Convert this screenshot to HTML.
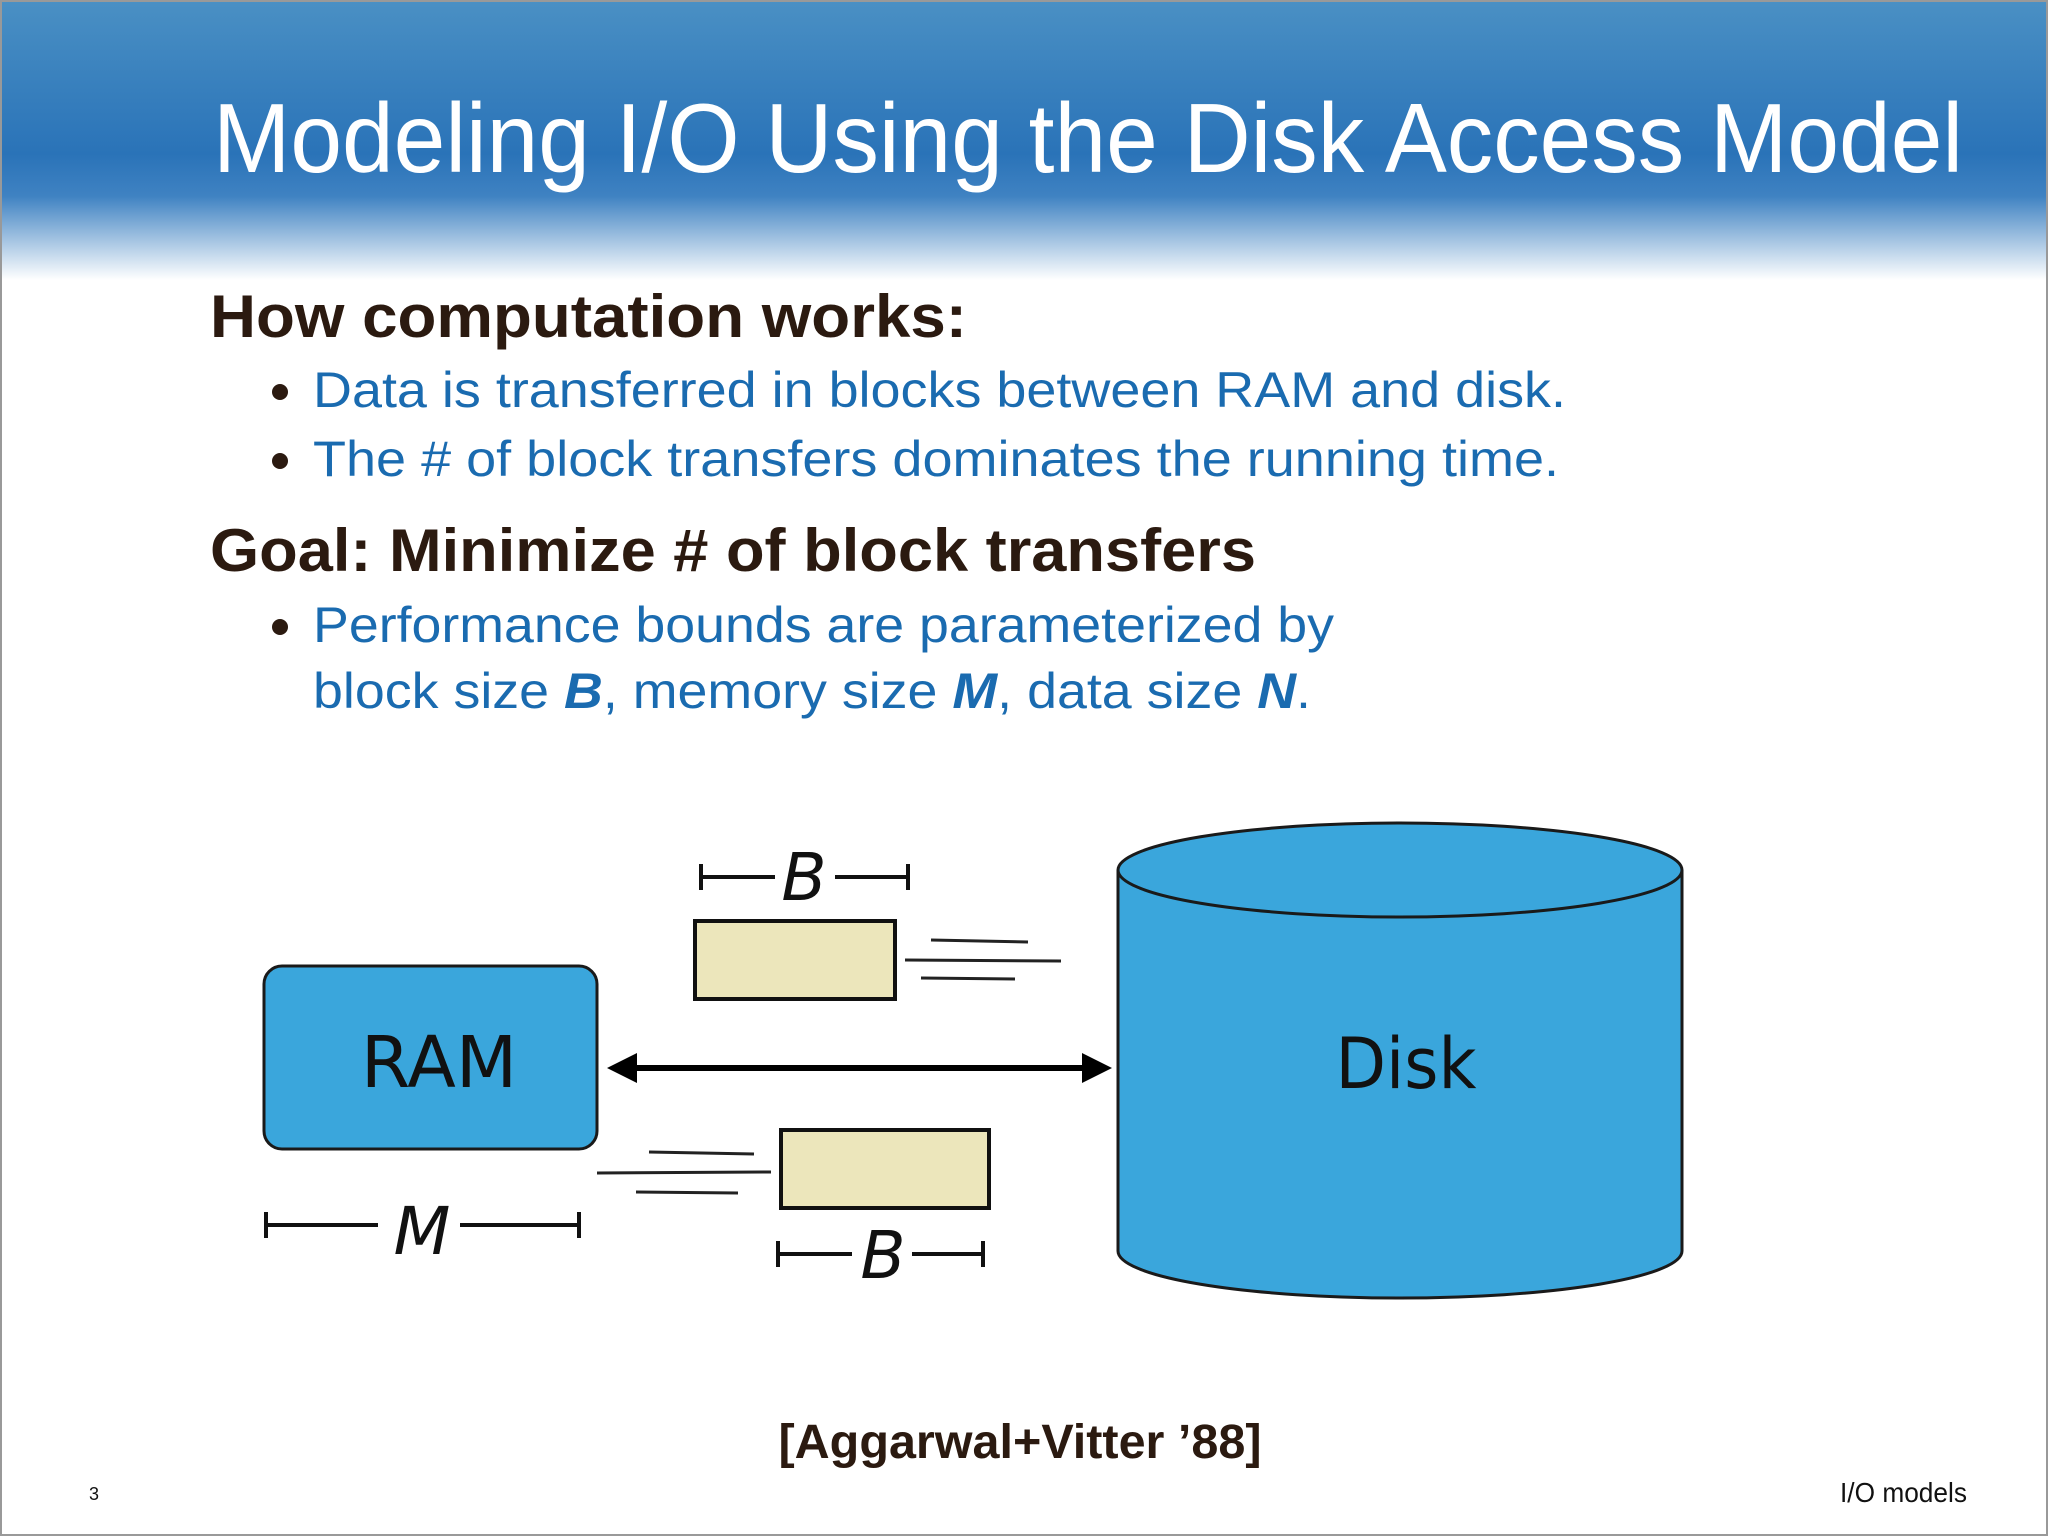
<!DOCTYPE html>
<html><head><meta charset="utf-8"><style>
html,body{margin:0;padding:0;background:#fff}
svg{display:block}
</style></head><body>
<svg width="2048" height="1536" viewBox="0 0 2048 1536" xmlns="http://www.w3.org/2000/svg">
<defs>
<linearGradient id="hdr" x1="0" y1="0" x2="0" y2="1">
<stop offset="0" stop-color="#4a90c4"/>
<stop offset="0.55" stop-color="#2a73b8"/>
<stop offset="0.7" stop-color="#3f82c2"/>
<stop offset="1" stop-color="#ffffff"/>
</linearGradient>
</defs>
<rect x="0" y="0" width="2048" height="1536" fill="#fff"/>
<rect x="0" y="0" width="2048" height="280" fill="url(#hdr)"/>
<rect x="1" y="1" width="2046" height="1534" fill="none" stroke="#999" stroke-width="2"/>
<text x="213" y="172" font-family="Liberation Sans, sans-serif" font-size="98" fill="#fff" textLength="1750" lengthAdjust="spacingAndGlyphs">Modeling I/O Using the Disk Access Model</text>

<g font-family="Liberation Sans, sans-serif">
<text x="210" y="337" font-size="60" font-weight="bold" fill="#2b1a10" textLength="757" lengthAdjust="spacingAndGlyphs">How computation works:</text>
<circle cx="280" cy="392" r="8" fill="#2b1a10"/>
<text x="313" y="407" font-size="50" fill="#1a6bb0" textLength="1253" lengthAdjust="spacingAndGlyphs">Data is transferred in blocks between RAM and disk.</text>
<circle cx="280" cy="461" r="8" fill="#2b1a10"/>
<text x="313" y="476" font-size="50" fill="#1a6bb0" textLength="1246" lengthAdjust="spacingAndGlyphs">The # of block transfers dominates the running time.</text>
<text x="210" y="571" font-size="60" font-weight="bold" fill="#2b1a10" textLength="1046" lengthAdjust="spacingAndGlyphs">Goal: Minimize # of block transfers</text>
<circle cx="280" cy="627" r="8" fill="#2b1a10"/>
<text x="313" y="642" font-size="50" fill="#1a6bb0" textLength="1021" lengthAdjust="spacingAndGlyphs">Performance bounds are parameterized by</text>
<text x="313" y="708" font-size="50" fill="#1a6bb0" textLength="998" lengthAdjust="spacingAndGlyphs">block size <tspan font-weight="bold" font-style="italic">B</tspan>, memory size <tspan font-weight="bold" font-style="italic">M</tspan>, data size <tspan font-weight="bold" font-style="italic">N</tspan>.</text>
</g>

<!-- RAM -->
<rect x="264" y="966" width="333" height="183" rx="18" fill="#3aa6dc" stroke="#1a1a1a" stroke-width="3"/>
<text x="439" y="1087" text-anchor="middle" font-family="DejaVu Sans, sans-serif" font-size="71" fill="#111">RAM</text>

<!-- Disk -->
<path d="M1118 870 L1118 1251 A282 47 0 0 0 1682 1251 L1682 870" fill="#3aa6dc" stroke="#1a1a1a" stroke-width="3"/>
<ellipse cx="1400" cy="870" rx="282" ry="47" fill="#3aa6dc" stroke="#1a1a1a" stroke-width="3"/>
<text x="1406" y="1088" text-anchor="middle" font-family="DejaVu Sans, sans-serif" font-size="70" fill="#111" textLength="141" lengthAdjust="spacingAndGlyphs">Disk</text>

<!-- arrow -->
<line x1="625" y1="1068" x2="1092" y2="1068" stroke="#000" stroke-width="6"/>
<polygon points="607,1068 637,1053 637,1083" fill="#000"/>
<polygon points="1112,1068 1082,1053 1082,1083" fill="#000"/>

<!-- top block -->
<rect x="695" y="921" width="200" height="78" fill="#ece6bb" stroke="#111" stroke-width="4"/>
<g stroke="#222" stroke-width="3">
<line x1="931" y1="940" x2="1028" y2="942"/>
<line x1="905" y1="960" x2="1061" y2="961"/>
<line x1="921" y1="978" x2="1015" y2="979"/>
<line x1="649" y1="1152" x2="754" y2="1154"/>
<line x1="597" y1="1173" x2="771" y2="1172"/>
<line x1="636" y1="1192" x2="738" y2="1193"/>
</g>
<rect x="781" y="1130" width="208" height="78" fill="#ece6bb" stroke="#111" stroke-width="4"/>

<!-- dimension brackets -->
<g stroke="#111" stroke-width="4">
<line x1="701" y1="877" x2="775" y2="877"/><line x1="835" y1="877" x2="908" y2="877"/>
<line x1="701" y1="864" x2="701" y2="890"/><line x1="908" y1="864" x2="908" y2="890"/>
<line x1="778" y1="1254" x2="852" y2="1254"/><line x1="912" y1="1254" x2="983" y2="1254"/>
<line x1="778" y1="1241" x2="778" y2="1267"/><line x1="983" y1="1241" x2="983" y2="1267"/>
<line x1="266" y1="1225" x2="378" y2="1225"/><line x1="460" y1="1225" x2="579" y2="1225"/>
<line x1="266" y1="1212" x2="266" y2="1238"/><line x1="579" y1="1212" x2="579" y2="1238"/>
</g>
<g font-family="DejaVu Sans, sans-serif" font-style="italic" font-size="66" fill="#111" text-anchor="middle">
<text x="804" y="900">B</text>
<text x="883" y="1278">B</text>
<text x="422" y="1254">M</text>
</g>

<text x="1020" y="1458" text-anchor="middle" font-family="Liberation Sans, sans-serif" font-weight="bold" font-size="48" fill="#2b1a10" textLength="483" lengthAdjust="spacingAndGlyphs">[Aggarwal+Vitter ’88]</text>
<text x="94" y="1500" text-anchor="middle" font-family="Liberation Sans, sans-serif" font-size="18" fill="#111">3</text>
<text x="1967" y="1502" text-anchor="end" font-family="Liberation Sans, sans-serif" font-size="28" fill="#111" textLength="127" lengthAdjust="spacingAndGlyphs">I/O models</text>
</svg>
</body></html>
